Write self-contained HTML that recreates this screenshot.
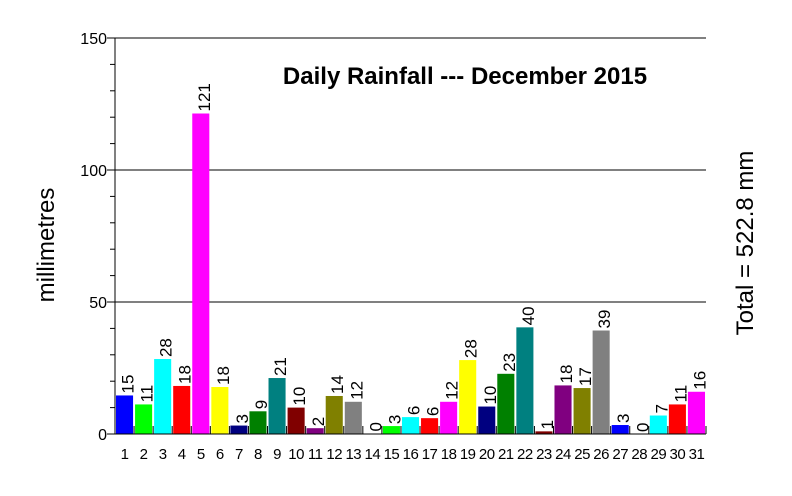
<!DOCTYPE html>
<html><head><meta charset="utf-8"><style>
body{margin:0;background:#fff;font-family:"Liberation Sans",Arial,sans-serif}
</style></head><body>
<svg width="792" height="491" viewBox="0 0 792 491" xmlns="http://www.w3.org/2000/svg">
<rect width="792" height="491" fill="#fff"/>
<g id="grid"></g><g id="bars"></g><g id="axes"></g>
<text x="465" y="84" text-anchor="middle" font-size="24" font-weight="bold">Daily Rainfall --- December 2015</text>
<text transform="translate(54,245) rotate(-90)" text-anchor="middle" font-size="24">millimetres</text>
<text transform="translate(753,243) rotate(-90)" text-anchor="middle" font-size="24">Total = 522.8 mm</text>
</svg>
<script>
const days=[1,2,3,4,5,6,7,8,9,10,11,12,13,14,15,16,17,18,19,20,21,22,23,24,25,26,27,28,29,30,31];
const rain=[14.6,11.2,28.4,18.2,121.4,17.8,3.2,8.6,21.2,10.0,2.2,14.4,12.2,0.2,3.0,6.4,6.0,12.2,28.0,10.4,22.8,40.4,1.0,18.4,17.4,39.2,3.4,0,7.0,11.2,16.0];
const colors=["#0000ff","#00ff00","#00ffff","#ff0000","#ff00ff","#ffff00","#000080","#008000","#008080","#800000","#800080","#808000","#808080","#ffffff","#00ff00","#00ffff","#ff0000","#ff00ff","#ffff00","#000080","#008000","#008080","#800000","#800080","#808000","#808080","#0000ff","#ffffff","#00ffff","#ff0000","#ff00ff"];
const yTicks=[0,50,100,150];
const NS="http://www.w3.org/2000/svg";
const X0=115,X1=706,Y0=434,Y1=38,YMAX=150;
const sw=(X1-X0)/days.length;
const y=v=>Y0-(v/YMAX)*(Y0-Y1);
const x=i=>X0+i*sw;
function mk(t,a,p){const e=document.createElementNS(NS,t);for(const k in a)e.setAttribute(k,a[k]);p.appendChild(e);return e;}
const grid=document.getElementById('grid'),bars=document.getElementById('bars'),axes=document.getElementById('axes');
yTicks.forEach(v=>{
  if(v>0){const l=mk('line',{x1:X0,x2:X1,y1:y(v),y2:y(v),stroke:'#000','stroke-width':1},grid);
  
  }
  const t=mk('text',{x:107,y:y(v)+6,'text-anchor':'end','font-size':16},axes);t.textContent=v;
  
  
});
for(let v=0;v<=YMAX;v+=10){
  const l=mk('line',{x1:v%50===0?X0-8:X0-5,x2:X0,y1:y(v),y2:y(v),stroke:'#000'},axes);
  
  
}
const ya=mk('line',{x1:X0,x2:X0,y1:Y1,y2:Y0,stroke:'#000'},axes);


const xa=mk('line',{x1:X0,x2:X1,y1:Y0,y2:Y0,stroke:'#000'},axes);


days.forEach((d,i)=>{
  const v=rain[i];
  const r=mk('rect',{x:x(i)+1,y:y(v),width:sw-2,height:Y0-y(v),fill:colors[i]},bars);
  
  
  const cx=x(i)+sw/2;
  const t=mk('text',{transform:`translate(${cx+9},${y(v)-2}) rotate(-90)`,'font-size':17},bars);
  t.textContent=Math.round(v);
  
  
  const xl=mk('text',{x:cx,y:459,'text-anchor':'middle','font-size':15,'letter-spacing':'-0.5'},axes);
  xl.textContent=d;
  
  
});
for(let i=0;i<=days.length;i++){
  const l=mk('line',{x1:x(i),x2:x(i),y1:Y0-8,y2:Y0,stroke:'#000'},axes);
  
  
}
</script>
</body></html>
